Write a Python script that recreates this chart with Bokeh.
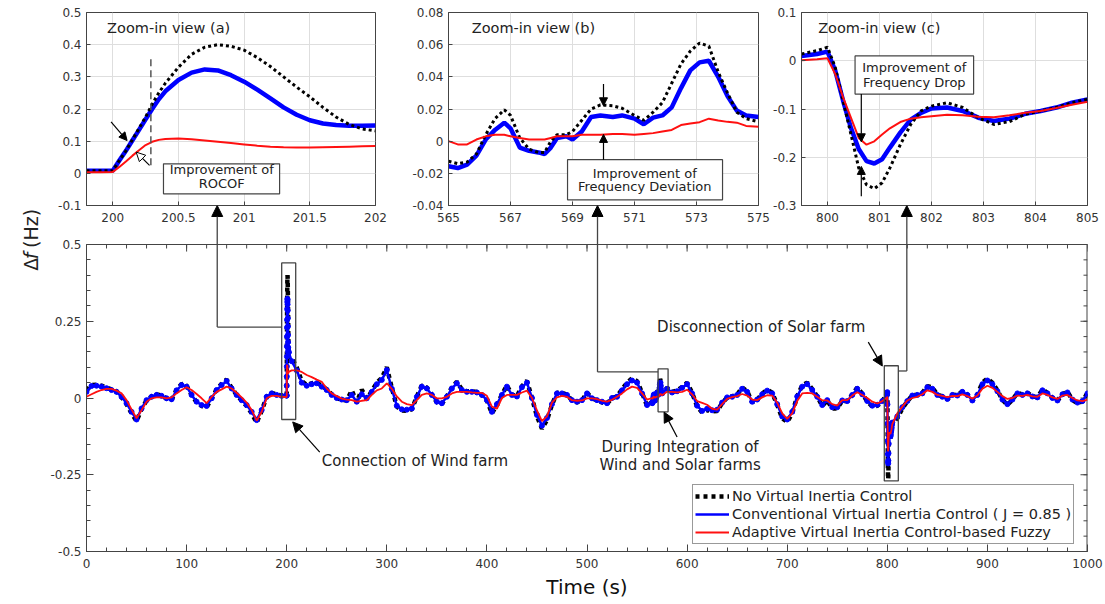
import numpy as np
from bokeh.plotting import figure
from bokeh.models import (Range1d, FixedTicker, CustomJSTickFormatter, GridBox,
                          Label, Arrow, NormalHead, Legend, LegendItem)
from bokeh.embed import file_html
from bokeh.resources import INLINE

FONT = "DejaVu Sans"
INK = "#222222"
AXIS = "#444444"
BLUE = "#0000ff"
RED = "#ff1010"

# ---------------------------------------------------------------- data
# Coarse 5 s samples of the frequency deviation (Hz); the three event
# windows are filled in with the finer samples used by the zoom views.
time_coarse = [t for t in range(0, 1001, 5)
               if not (199 < t < 203 or 564 < t < 576 or 799 < t < 806)]

no_vic_coarse = [
    0.025, 0.042, 0.043, 0.04, 0.034, 0.028, 0.022, 0.003, -0.02, -0.05,
    -0.075, -0.036, -0.008, 0.005, 0.012, 0.008, -0.002, -0.006, 0.027, 0.046,
    0.04, 0.01, -0.014, -0.026, -0.03, -0.002, 0.028, 0.046, 0.06, 0.033,
    0.01, -0.008, -0.026, -0.05, -0.08, -0.042, 0.004, 0.017, 0.012, 0.008,
    0.13, 0.1, 0.055, 0.042, 0.048, 0.05, 0.04, 0.028, 0.012,
    0.0, -0.006, -0.008, 0.025, -0.014, 0.027, -0.002, 0.022, 0.05, 0.065,
    0.1, 0.033, -0.028, -0.041, -0.042, -0.037, 0.005, 0.041, 0.034, 0.011,
    -0.014, -0.019, 0.005, 0.034, 0.053, 0.028, 0.022, 0.022, 0.02, 0.011,
    -0.008, -0.05, -0.022, 0.011, 0.041, 0.011, 0.006, 0.038, 0.056, 0.0,
    -0.06, -0.1, -0.072, -0.022, 0.017, 0.017, 0.011, -0.008, -0.014, -0.008,
    0.017, -0.001, -0.008, -0.014, -0.019, 0.0, 0.005, 0.028, 0.05, 0.064,
    0.055, 0.017, -0.026, 0.033, 0.02, 0.024, 0.036,
    0.05, 0.017, -0.028, -0.047, -0.039, -0.044, -0.042, -0.017, 0.002, 0.005,
    0.011, 0.034, 0.022, -0.014, -0.006, 0.014, 0.027, 0.017, -0.022, -0.066,
    -0.078, -0.05, 0.006, 0.041, 0.05, 0.029, 0.005, -0.026, -0.008, -0.034,
    -0.034, -0.009, -0.011, 0.011, 0.034, 0.014, -0.011, -0.028, -0.025, -0.011,
    -0.066, -0.034, -0.011, 0.009, 0.011, 0.017, 0.039, 0.034,
    0.011, 0.005, -0.004, 0.011, 0.009, 0.022, 0.011, -0.009, 0.011, 0.05,
    0.063, 0.05, 0.025, -0.006, -0.022, -0.006, 0.017, 0.011, 0.017, 0.006,
    0.002, 0.028, 0.017, 0.0, -0.009, 0.013, 0.02, -0.006, -0.017, -0.011,
    0.017,
]

conv_coarse = [
    0.02, 0.039, 0.04, 0.037, 0.032, 0.026, 0.02, 0.004, -0.017, -0.045,
    -0.07, -0.034, -0.007, 0.004, 0.01, 0.007, -0.001, -0.004, 0.025, 0.042,
    0.037, 0.01, -0.012, -0.023, -0.026, -0.001, 0.026, 0.042, 0.055, 0.031,
    0.01, -0.007, -0.023, -0.045, -0.072, -0.039, 0.004, 0.015, 0.01, 0.007,
    0.12, 0.09, 0.05, 0.04, 0.045, 0.048, 0.037, 0.026, 0.01,
    0.0, -0.005, -0.007, 0.01, -0.012, 0.012, -0.001, 0.02, 0.045, 0.059,
    0.091, 0.03, -0.025, -0.037, -0.038, -0.034, 0.004, 0.037, 0.031, 0.01,
    -0.012, -0.017, 0.004, 0.031, 0.048, 0.026, 0.02, 0.02, 0.018, 0.01,
    -0.007, -0.045, -0.02, 0.01, 0.037, 0.01, 0.005, 0.035, 0.05, 0.0,
    -0.055, -0.09, -0.065, -0.02, 0.015, 0.015, 0.01, -0.007, -0.012, -0.007,
    0.015, -0.001, -0.007, -0.012, -0.017, 0.0, 0.004, 0.025, 0.045, 0.057,
    0.05, 0.015, -0.023, 0.03, 0.018, 0.022, 0.033,
    0.045, 0.015, -0.025, -0.042, -0.035, -0.04, -0.038, -0.015, 0.002, 0.004,
    0.01, 0.03, 0.02, -0.012, -0.005, 0.012, 0.024, 0.015, -0.02, -0.06,
    -0.07, -0.045, 0.005, 0.037, 0.045, 0.026, 0.004, -0.023, -0.007, -0.03,
    -0.03, -0.008, -0.01, 0.01, 0.03, 0.012, -0.01, -0.025, -0.022, -0.01,
    -0.06, -0.03, -0.01, 0.008, 0.01, 0.015, 0.035, 0.03,
    0.01, 0.004, -0.003, 0.01, 0.008, 0.02, 0.01, -0.008, 0.01, 0.045,
    0.057, 0.045, 0.022, -0.005, -0.02, -0.005, 0.015, 0.01, 0.015, 0.005,
    0.002, 0.025, 0.015, 0.0, -0.008, 0.012, 0.018, -0.005, -0.015, -0.01,
    0.015,
]

fuzzy_coarse = [
    0.004, 0.012, 0.02, 0.026, 0.03, 0.03, 0.024, 0.015, -0.007, -0.037,
    -0.066, -0.04, -0.012, -0.001, 0.002, 0.002, -0.001, 0.002, 0.015, 0.026,
    0.035, 0.026, 0.013, -0.001, -0.017, 0.004, 0.02, 0.028, 0.037, 0.031,
    0.017, 0.002, -0.015, -0.039, -0.074, -0.045, -0.001, 0.007, 0.007, 0.004,
    0.09, 0.09, 0.085, 0.075, 0.068, 0.06, 0.053, 0.031, 0.015,
    0.006, -0.002, -0.005, -0.007, -0.012, -0.009, -0.007, 0.01, 0.025, 0.031,
    0.048, 0.03, 0.005, -0.012, -0.02, -0.023, -0.007, 0.01, 0.015, 0.01,
    -0.001, -0.001, 0.004, 0.015, 0.02, 0.02, 0.02, 0.018, 0.017, 0.017,
    0.007, -0.028, -0.035, 0.0, 0.01, 0.01, 0.01, 0.018, 0.024, 0.0,
    -0.04, -0.075, -0.06, -0.015, 0.002, 0.007, 0.004, -0.007, -0.009, -0.008,
    -0.001, -0.001, -0.004, -0.009, -0.012, -0.006, 0.004, 0.015, 0.028, 0.037,
    0.033, 0.015, -0.005, 0.02, 0.02, 0.018, 0.02,
    0.027, 0.012, -0.01, -0.016, -0.022, -0.035, -0.038, -0.02, -0.003, 0.003,
    0.006, 0.013, 0.008, -0.005, -0.007, 0.002, 0.009, 0.008, -0.015, -0.05,
    -0.068, -0.05, -0.01, 0.015, 0.017, 0.015, 0.004, -0.007, -0.008, -0.02,
    -0.025, -0.007, -0.007, 0.008, 0.019, 0.01, 0.0, -0.012, -0.018, -0.01,
    -0.05, -0.028, -0.008, 0.0, 0.004, 0.012, 0.025, 0.02,
    0.01, 0.007, 0.003, 0.007, 0.006, 0.012, 0.006, -0.002, 0.008, 0.03,
    0.04, 0.033, 0.02, 0.006, -0.003, 0.0, 0.008, 0.007, 0.01, 0.005,
    0.004, 0.015, 0.01, 0.002, -0.003, 0.008, 0.01, 0.0, -0.008, -0.01,
    -0.005,
]

# (a) connection of the wind farm, 199.8 - 202 s
time_a = [199.8, 199.9, 200.0, 200.05, 200.1, 200.15, 200.2, 200.25, 200.3,
          200.35, 200.4, 200.5, 200.6, 200.7, 200.8, 200.9, 201.0, 201.1,
          201.2, 201.3, 201.4, 201.5, 201.6, 201.7, 201.8, 201.9, 202.0]
no_vic_a = [0.008, 0.008, 0.008, 0.04, 0.07, 0.105, 0.14, 0.175, 0.215,
            0.25, 0.28, 0.33, 0.37, 0.392, 0.4, 0.395, 0.383, 0.36,
            0.332, 0.3, 0.268, 0.238, 0.205, 0.175, 0.152, 0.138, 0.132]
conv_a = [0.008, 0.008, 0.008, 0.04, 0.07, 0.103, 0.135, 0.168, 0.2,
          0.23, 0.255, 0.29, 0.313, 0.323, 0.32, 0.305, 0.285, 0.26,
          0.233, 0.205, 0.182, 0.165, 0.155, 0.15, 0.148, 0.148, 0.149]
fuzzy_a = [0.003, 0.003, 0.004, 0.02, 0.037, 0.055, 0.072, 0.088, 0.098,
           0.104, 0.107, 0.108, 0.106, 0.102, 0.098, 0.094, 0.09, 0.086,
           0.083, 0.081, 0.08, 0.08, 0.081, 0.082, 0.083, 0.084, 0.085]

# (b) wind and solar farms integrated, 565 - 575 s
time_b = [565.0, 565.3, 565.6, 565.9, 566.2, 566.5, 566.8, 567.0, 567.3,
          567.6, 567.9, 568.1, 568.3, 568.5, 568.8, 569.0, 569.3, 569.6,
          569.9, 570.3, 570.6, 571.0, 571.3, 571.6, 571.9, 572.2, 572.5,
          572.8, 573.1, 573.4, 573.7, 574.0, 574.3, 574.6, 575.0]
no_vic_b = [-0.0125, -0.014, -0.013, -0.008, 0.004, 0.014, 0.0195, 0.016,
            0.002, -0.005, -0.007, -0.007, 0.0, 0.004, 0.004, 0.006, 0.013,
            0.02, 0.0225, 0.022, 0.0205, 0.016, 0.013, 0.018, 0.024, 0.036,
            0.048, 0.056, 0.061, 0.059, 0.043, 0.03, 0.018, 0.014, 0.012]
conv_b = [-0.0156, -0.0167, -0.0146, -0.009, 0.001, 0.007, 0.0115, 0.008,
          -0.004, -0.006, -0.007, -0.008, -0.004, 0.002, 0.003, 0.001, 0.006,
          0.015, 0.016, 0.015, 0.016, 0.014, 0.0105, 0.0146, 0.016, 0.021,
          0.033, 0.044, 0.049, 0.05, 0.04, 0.028, 0.019, 0.016, 0.015]
fuzzy_b = [0.0, -0.002, -0.002, 0.001, 0.003, 0.004, 0.004, 0.003, 0.002,
           0.001, 0.001, 0.001, 0.002, 0.003, 0.003, 0.003, 0.004, 0.004,
           0.004, 0.0045, 0.0045, 0.004, 0.0045, 0.005, 0.006, 0.007, 0.01,
           0.011, 0.0118, 0.014, 0.0128, 0.012, 0.0115, 0.0095, 0.009]

# (c) disconnection of the solar farm, 799.5 - 805 s
time_c = [799.5, 799.8, 800.0, 800.15, 800.3, 800.45, 800.6, 800.75, 800.9,
          801.05, 801.2, 801.4, 801.6, 801.8, 802.0, 802.3, 802.6, 802.9,
          803.2, 803.5, 803.8, 804.1, 804.4, 804.7, 805.0]
no_vic_c = [0.014, 0.021, 0.028, -0.014, -0.083, -0.152, -0.222, -0.257,
            -0.265, -0.253, -0.222, -0.174, -0.132, -0.104, -0.094, -0.087,
            -0.097, -0.118, -0.132, -0.126, -0.111, -0.104, -0.097, -0.087,
            -0.08]
conv_c = [0.01, 0.014, 0.019, -0.021, -0.083, -0.139, -0.183, -0.208,
          -0.213, -0.204, -0.18, -0.149, -0.122, -0.108, -0.099, -0.097,
          -0.104, -0.118, -0.125, -0.12, -0.11, -0.104, -0.097, -0.087, -0.08]
fuzzy_c = [0.001, 0.003, 0.005, -0.028, -0.076, -0.118, -0.16, -0.174,
           -0.167, -0.153, -0.14, -0.127, -0.12, -0.117, -0.115, -0.112,
           -0.113, -0.116, -0.117, -0.113, -0.108, -0.104, -0.098, -0.091,
           -0.085]

legend_labels = ["No Virtual Inertia Control",
                 "Conventional Virtual Inertia Control ( J = 0.85 )",
                 "Adaptive Virtual Inertia Control-based Fuzzy"]

main_xticks = list(range(0, 1001, 100))
main_xminor = list(range(0, 1001, 20))
main_yticks = [-0.5, -0.25, 0, 0.25, 0.5]
main_yminor = [round(-0.5 + 0.05 * i, 2) for i in range(21)]

# page grid (px): y-title strip + three zoom views on top, main plot below.
# The main plot's frame reaches up into the gap under the zoom views so the
# pointer arrows can be drawn there.
COLS = [42, 358, 370, 335]
ROWS = [205, 27, 372]
Y_TOP = 0.5 + 39 / 307          # frame top of the main plot, 39 px above 0.5

# ---------------------------------------------------------------- helpers
fmt = CustomJSTickFormatter(code="return String(Number(tick.toFixed(4)));")


def style_axis(ax, size="12px", tick_in=4, minor_in=0, standoff=5):
    ax.axis_line_color = AXIS
    ax.axis_line_width = 1
    ax.major_tick_line_color = AXIS
    ax.minor_tick_line_color = AXIS
    ax.major_tick_in = tick_in
    ax.major_tick_out = 0
    ax.minor_tick_in = minor_in
    ax.minor_tick_out = 0
    ax.major_label_text_font = FONT
    ax.major_label_text_font_size = size
    ax.major_label_text_color = "#333333"
    ax.major_label_standoff = standoff
    ax.formatter = fmt


def make_inset(xr, yr, xticks, yticks, width, left, right):
    p = figure(width=width, height=ROWS[0] + ROWS[1], x_range=Range1d(*xr),
               y_range=Range1d(*yr), output_backend="svg", toolbar_location=None,
               min_border_left=left, min_border_right=right,
               min_border_top=12, min_border_bottom=ROWS[1])
    xt = FixedTicker(ticks=xticks)
    yt = FixedTicker(ticks=yticks)
    p.xaxis[0].ticker = xt
    p.yaxis[0].ticker = yt
    p.xgrid[0].ticker = xt
    p.ygrid[0].ticker = yt
    style_axis(p.xaxis[0], standoff=7)
    style_axis(p.yaxis[0])
    p.grid.grid_line_color = "#dedede"
    p.outline_line_color = AXIS
    p.outline_line_width = 1
    p.background_fill_color = "white"
    p.border_fill_color = "white"
    return p


def draw_zoom(p, t, k, b, r):
    p.line(t, b, line_color=BLUE, line_width=4.5)
    p.line(t, k, line_color="black", line_width=3, line_dash="3 3")
    p.line(t, r, line_color=RED, line_width=2)


def label(p, x, y, text, size="13px", align="center", **kw):
    p.add_layout(Label(x=x, y=y, text=text, text_font=FONT, text_font_size=size,
                       text_color=INK, text_align=align, text_baseline="middle", **kw))


def arrow(p, xs, ys, xe, ye, size=9, color="black", width=1.2, head=True):
    end = NormalHead(size=size, fill_color=color, line_color=color) if head else None
    p.add_layout(Arrow(end=end, x_start=xs, y_start=ys, x_end=xe, y_end=ye,
                       line_color=color, line_width=width))


# ---------------------------------------------------------------- zoom (a)
pa = make_inset((199.8, 202), (-0.1, 0.5), [200, 200.5, 201, 201.5, 202],
                [-0.1, 0, 0.1, 0.2, 0.3, 0.4, 0.5], COLS[1], 86 - COLS[0], 25)
draw_zoom(pa, time_a, no_vic_a, conv_a, fuzzy_a)
pa.segment(x0=[200.29], y0=[0.025], x1=[200.29], y1=[0.367], line_color="#555555",
           line_width=1.5, line_dash="7 4")
pa.quad(left=[200.386], right=[201.27], bottom=[-0.0637], top=[0.0297],
        fill_color="white", line_color=AXIS, line_width=1.2)
label(pa, 200.83, 0.011, "Improvement of")
label(pa, 200.83, -0.033, "ROCOF")
label(pa, 199.957, 0.453, "Zoom-in view (a)", size="14.5px", align="left")
arrow(pa, 199.987, 0.16, 200.109, 0.102, size=8)
pa.add_layout(Arrow(end=NormalHead(size=9, fill_color="white", line_color="black"),
                    x_start=200.28, y_start=0.0246, x_end=200.178, y_end=0.066,
                    line_color="black", line_width=1.2))

# ---------------------------------------------------------------- zoom (b)
pb = make_inset((565, 575), (-0.04, 0.08), [565, 567, 569, 571, 573, 575],
                [-0.04, -0.02, 0, 0.02, 0.04, 0.06, 0.08], COLS[2], 48, 12)
draw_zoom(pb, time_b, no_vic_b, conv_b, fuzzy_b)
pb.quad(left=[568.84], right=[573.84], bottom=[-0.0365], top=[-0.0115],
        fill_color="white", line_color=AXIS, line_width=1.2)
label(pb, 571.33, -0.0198, "Improvement of")
label(pb, 571.33, -0.028, "Frequency Deviation")
label(pb, 565.75, 0.0706, "Zoom-in view (b)", size="14.5px", align="left")
arrow(pb, 570.0, 0.0356, 570.0, 0.022, size=8)
arrow(pb, 570.0, -0.0115, 570.0, 0.0042, size=8)

# ---------------------------------------------------------------- zoom (c)
pc = make_inset((799.5, 805), (-0.3, 0.1), [800, 801, 802, 803, 804, 805],
                [-0.3, -0.2, -0.1, 0, 0.1], COLS[3], 28, 18)
draw_zoom(pc, time_c, no_vic_c, conv_c, fuzzy_c)
pc.quad(left=[800.53], right=[802.81], bottom=[-0.069], top=[0.010],
        fill_color="white", line_color=AXIS, line_width=1.2)
label(pc, 801.67, -0.0134, "Improvement of")
label(pc, 801.67, -0.0447, "Frequency Drop")
label(pc, 799.82, 0.0687, "Zoom-in view (c)", size="14.5px", align="left")
arrow(pc, 800.65, -0.069, 800.65, -0.168, size=8)
arrow(pc, 800.65, -0.281, 800.65, -0.219, size=8)

# ---------------------------------------------------------------- main plot
t_all = np.concatenate([time_coarse, time_a, time_b, time_c]).astype(float)
order = np.argsort(t_all, kind="stable")
t_main = t_all[order]
k_main = np.concatenate([no_vic_coarse, no_vic_a, no_vic_b, no_vic_c])[order]
b_main = np.concatenate([conv_coarse, conv_a, conv_b, conv_c])[order]
r_main = np.concatenate([fuzzy_coarse, fuzzy_a, fuzzy_b, fuzzy_c])[order]

pm = figure(width=sum(COLS[1:]), height=ROWS[1] + ROWS[2], x_range=Range1d(0, 1000),
            y_range=Range1d(-0.5, Y_TOP), output_backend="svg", toolbar_location=None,
            min_border_left=85 - COLS[0], min_border_right=17, min_border_top=0,
            min_border_bottom=53)
pm.grid.visible = False
pm.outline_line_color = None
pm.background_fill_alpha = 0
pm.border_fill_alpha = 0

xt = FixedTicker(ticks=main_xticks, minor_ticks=main_xminor)
yt = FixedTicker(ticks=main_yticks, minor_ticks=main_yminor)
pm.xaxis[0].ticker = xt
pm.yaxis[0].ticker = yt
style_axis(pm.xaxis[0], tick_in=7, minor_in=4, standoff=7)
style_axis(pm.yaxis[0], tick_in=7, minor_in=4)
pm.yaxis[0].bounds = (-0.5, 0.5)
pm.xaxis[0].axis_label = "Time (s)"
pm.xaxis[0].axis_label_text_font = FONT
pm.xaxis[0].axis_label_text_font_size = "20px"
pm.xaxis[0].axis_label_text_font_style = "normal"
pm.xaxis[0].axis_label_text_color = "#111111"
pm.xaxis[0].axis_label_standoff = 4

# top and right edges of the box with inward ticks
pm.segment(x0=[0], y0=[0.5], x1=[1000], y1=[0.5], line_color=AXIS, line_width=1)
pm.segment(x0=[1000], y0=[-0.5], x1=[1000], y1=[0.5], line_color=AXIS, line_width=2)
n_x, n_y = len(main_xminor), len(main_yminor)
pm.segment(x0=main_xminor, y0=[0.5] * n_x, x1=main_xminor, y1=[0.487] * n_x,
           line_color=AXIS, line_width=1)
pm.segment(x0=main_xticks, y0=[0.5] * len(main_xticks), x1=main_xticks,
           y1=[0.477] * len(main_xticks), line_color=AXIS, line_width=1)
pm.segment(x0=[1000] * n_y, y0=main_yminor, x1=[996] * n_y, y1=main_yminor,
           line_color=AXIS, line_width=1)
pm.segment(x0=[1000] * len(main_yticks), y0=main_yticks, x1=[993] * len(main_yticks),
           y1=main_yticks, line_color=AXIS, line_width=1)

r_k = pm.line(t_main, k_main, line_color="black", line_width=4.5, line_dash="4 4")
r_b = pm.line(t_main, b_main, line_color=BLUE, line_width=2.5)
pm.scatter(t_main, b_main, marker="circle", size=5, fill_color=BLUE, line_color=BLUE)
r_r = pm.line(t_main, r_main, line_color=RED, line_width=1.8)

# event boxes and the pointers up to the zoom views
pm.quad(left=[195, 571, 797], right=[209, 581, 811], bottom=[-0.07, -0.045, -0.27],
        top=[0.44, 0.095, 0.105], fill_alpha=0, line_color=AXIS, line_width=1.3)
for (xv, yh, xbox) in [(130.6, 0.231, 195), (510.5, 0.085, 571), (819.5, 0.088, 811)]:
    arrow(pm, xv, yh, xbox, yh, color=AXIS, width=1.3, head=False)
    pm.add_layout(Arrow(end=NormalHead(size=11, fill_color="black", line_color="black"),
                        x_start=xv, y_start=yh, x_end=xv, y_end=Y_TOP,
                        line_color=AXIS, line_width=1.3))

label(pm, 235, -0.205, "Connection of Wind farm", size="15px", align="left")
arrow(pm, 233, -0.176, 206, -0.078, size=10)
label(pm, 593, -0.16, "During Integration of", size="15px")
label(pm, 593, -0.218, "Wind and Solar farms", size="15px")
arrow(pm, 590, -0.127, 577, -0.046, size=10)
label(pm, 674, 0.231, "Disconnection of Solar farm", size="15px")
arrow(pm, 781, 0.182, 795, 0.104, size=10)

legend = Legend(items=[LegendItem(label=legend_labels[0], renderers=[r_k]),
                       LegendItem(label=legend_labels[1], renderers=[r_b]),
                       LegendItem(label=legend_labels[2], renderers=[r_r])],
                location=(606, 7), orientation="vertical",
                label_text_font=FONT, label_text_font_size="14.5px",
                label_text_color=INK, glyph_width=34, glyph_height=18,
                label_height=18, label_standoff=3, spacing=0, padding=2, margin=0,
                border_line_color="#333333", border_line_width=1,
                background_fill_color="white", background_fill_alpha=1)
pm.add_layout(legend)

# ---------------------------------------------------------------- y-axis title strip
H = sum(ROWS)
py = figure(width=COLS[0], height=H, x_range=Range1d(0, COLS[0]), y_range=Range1d(0, H),
            output_backend="svg", toolbar_location=None, x_axis_type=None,
            y_axis_type=None, min_border=0)
py.grid.visible = False
py.outline_line_color = None
py.background_fill_color = "white"
py.border_fill_color = "white"
label(py, 30, 314.5, "\u0394", size="19px", align="left", angle=np.pi / 2)
label(py, 30, 327.5, "f", size="19px", align="left", angle=np.pi / 2,
      text_font_style="italic")
label(py, 30, 340.2, "(Hz)", size="19px", align="left", angle=np.pi / 2)

layout = GridBox(children=[(py, 0, 0, 3, 1), (pa, 0, 1, 2, 1), (pb, 0, 2, 2, 1),
                           (pc, 0, 3, 2, 1), (pm, 1, 1, 2, 3)],
                 rows=[f"{r}px" for r in ROWS], cols=[f"{c}px" for c in COLS],
                 spacing=0)
open("out.html", "w").write(file_html(layout, INLINE))
